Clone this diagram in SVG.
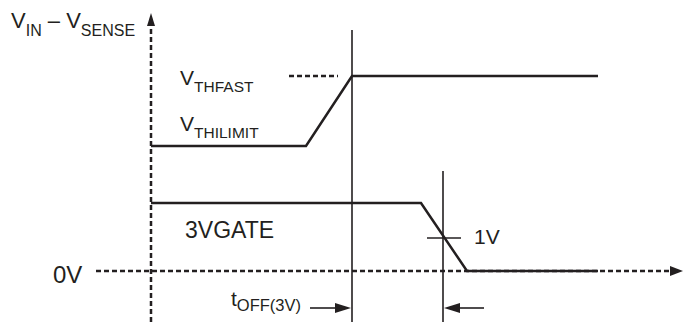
<svg xmlns="http://www.w3.org/2000/svg" width="684" height="322" viewBox="0 0 684 322">
<style>
text{font-family:"Liberation Sans",Arial,sans-serif;fill:#231f20}
.m{font-size:21px}
.s{font-size:15px}
.sig{fill:none;stroke:#231f20;stroke-width:2.5}
.dash{fill:none;stroke:#231f20;stroke-width:2.5;stroke-dasharray:5 3}
.v{fill:none;stroke:#231f20;stroke-width:1.6}
.ah{fill:#231f20}
</style>
<rect width="684" height="322" fill="#fff"/>
<g id="axes">
<line class="dash" x1="151" y1="322" x2="151" y2="27"/>
<polygon class="ah" points="151,13 155,26 147,26"/>
<line class="dash" x1="96" y1="271" x2="672" y2="271"/>
<polygon class="ah" points="683,271 670,266 670,276"/>
</g>
<g id="connectors">
<line class="v" x1="352" y1="30" x2="352" y2="322"/>
<line class="v" x1="443" y1="171" x2="443" y2="322"/>
<line class="dash" x1="289" y1="76" x2="338" y2="76"/>
<polyline class="sig" points="151,146 306,146 352,76 598,76"/>
<polyline class="sig" points="151,203 421,203 467,271 598,271"/>
<line class="v" x1="427" y1="238" x2="461" y2="238"/>
<line class="v" x1="310" y1="308" x2="340" y2="308"/>
<polygon class="ah" points="351,308 335,303 335,313"/>
<line class="v" x1="455" y1="308" x2="484" y2="308"/>
<polygon class="ah" points="444,308 460,303 460,313"/>
</g>
<g id="label-vin">
<text x="11" y="28" style="font-size:22px">V<tspan style="font-size:16px" dy="8">IN</tspan><tspan dy="-8"> – V</tspan><tspan style="font-size:16px" dy="8">SENSE</tspan></text>
</g>
<g id="label-thfast">
<text x="180" y="85" class="m">V<tspan style="font-size:15.5px" dy="7">THFAST</tspan></text>
</g>
<g id="label-thilimit">
<text x="180" y="131" class="m">V<tspan style="font-size:15.5px" dy="7">THILIMIT</tspan></text>
</g>
<g id="label-3vgate">
<text x="185" y="238" style="font-size:23px">3VGATE</text>
</g>
<g id="label-1v">
<text x="474" y="244" style="font-size:21px">1V</text>
</g>
<g id="label-0v">
<text x="53" y="283" style="font-size:24px">0V</text>
</g>
<g id="label-toff">
<text x="231" y="306" class="m">t<tspan style="font-size:16.5px" dy="5">OFF(3V)</tspan></text>
</g>
</svg>
